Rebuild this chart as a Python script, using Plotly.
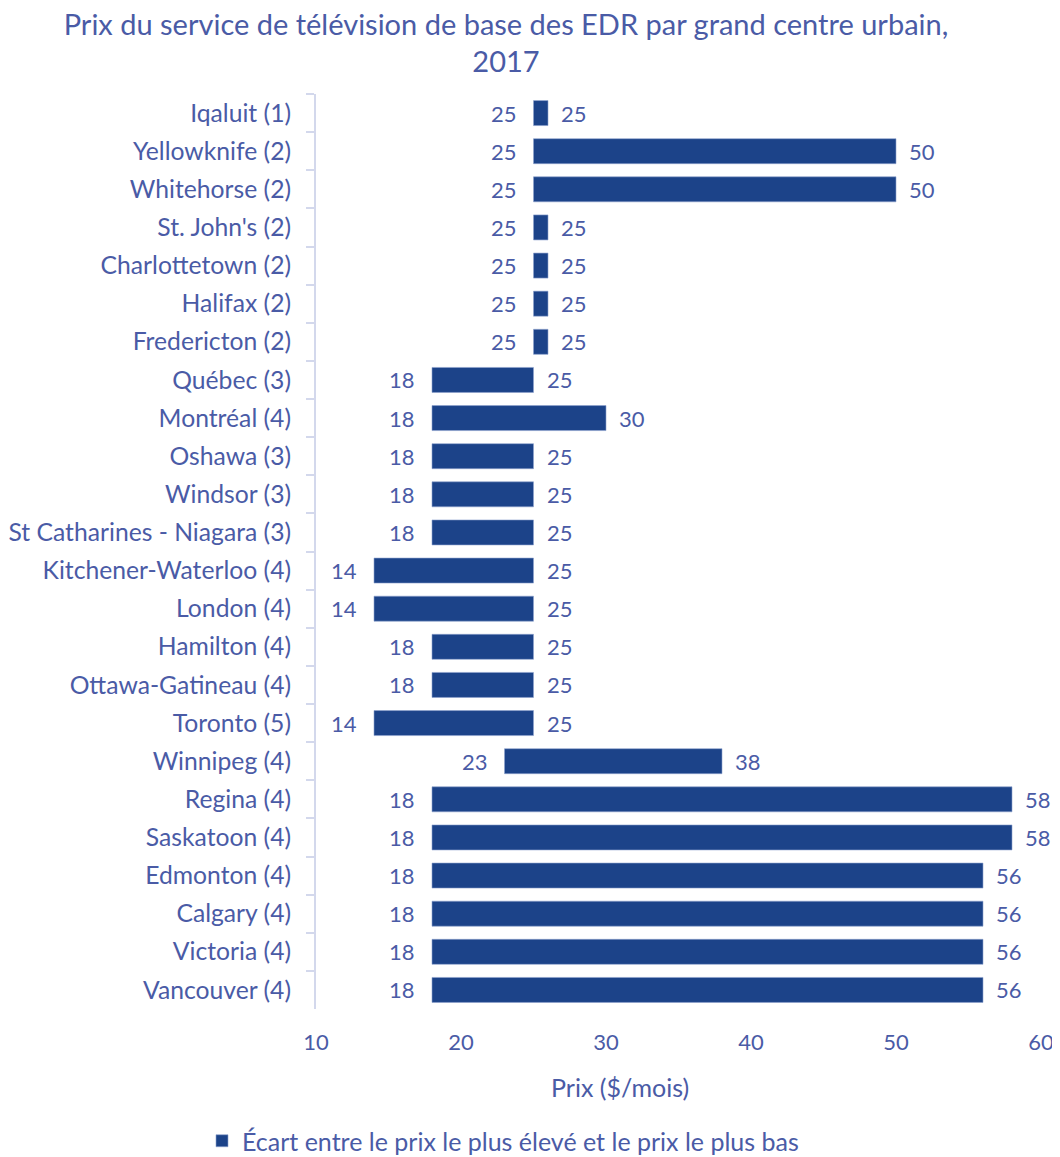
import plotly.graph_objects as go

cities = ["Iqaluit (1)", "Yellowknife (2)", "Whitehorse (2)", "St. John's (2)", "Charlottetown (2)",
          "Halifax (2)", "Fredericton (2)", "Québec (3)", "Montréal (4)", "Oshawa (3)", "Windsor (3)",
          "St Catharines - Niagara (3)", "Kitchener-Waterloo (4)", "London (4)", "Hamilton (4)",
          "Ottawa-Gatineau (4)", "Toronto (5)", "Winnipeg (4)", "Regina (4)", "Saskatoon (4)",
          "Edmonton (4)", "Calgary (4)", "Victoria (4)", "Vancouver (4)"]
low = [25, 25, 25, 25, 25, 25, 25, 18, 18, 18, 18, 18, 14, 14, 18, 18, 14, 23, 18, 18, 18, 18, 18, 18]
high = [25, 50, 50, 25, 25, 25, 25, 25, 30, 25, 25, 25, 25, 25, 25, 25, 25, 38, 58, 58, 56, 56, 56, 56]
x_ticks = [10, 20, 30, 40, 50, 60]

MIN_SPAN = 1  # equal low/high still drawn as a thin bar, as in the original
span = [max(h - l, MIN_SPAN) for l, h in zip(low, high)]

TXT = "#4A5BA6"
BAR = "#1C4389"
FONT = "Lato, 'Open Sans', sans-serif"

W, H = 1060, 1157
OFF = 8  # page body margin offsets the figure
L, R, T, B = 316 - OFF, W - 1041 + OFF, 94 - OFF, H - 1009 + OFF
PW, PH = W - L - R, H - T - B

fig = go.Figure()
fig.add_trace(go.Bar(
    y=cities, x=span, base=low, orientation="h",
    marker=dict(color=BAR, line=dict(color="#8FA3CF", width=0.6)),
    name="Écart entre le prix le plus élevé et le prix le plus bas",
    showlegend=True,
))

annotations = []
for c, l, s, h in zip(cities, low, span, high):
    annotations.append(dict(x=l, y=c, xref="x", yref="y", text=str(l), showarrow=False,
                            xanchor="right", yanchor="middle", xshift=-15,
                            font=dict(size=22, color=TXT, family=FONT)))
    annotations.append(dict(x=l + s, y=c, xref="x", yref="y", text=str(h), showarrow=False,
                            xanchor="left", yanchor="middle", xshift=11,
                            font=dict(size=22, color=TXT, family=FONT)))
annotations.append(dict(x=(620 - OFF - L) / PW, y=(H - B - (1087 - OFF)) / PH, xref="paper", yref="paper",
                        text="Prix ($/mois)", showarrow=False, yanchor="middle",
                        font=dict(size=25, color=TXT, family=FONT)))

fig.update_layout(
    width=W, height=H,
    margin=dict(l=L, r=R, t=T, b=B, autoexpand=False),
    paper_bgcolor="white", plot_bgcolor="white",
    font=dict(family=FONT, color=TXT, size=22),
    title=dict(text="Prix du service de télévision de base des EDR par grand centre urbain,<br>2017",
               x=(506 - OFF) / W, xanchor="center", y=1 - 26.5 / H, yanchor="middle",
               font=dict(size=29, color=TXT, family=FONT)),
    bargap=0.344,
    xaxis=dict(range=[10, 60], tickvals=x_ticks, showgrid=False, zeroline=False,
               showline=False, ticks="", ticklabelstandoff=18, automargin=False,
               tickfont=dict(size=22, color=TXT)),
    yaxis=dict(categoryorder="array", categoryarray=cities, autorange="reversed",
               showline=True, linecolor="#D3D8EC", linewidth=2, automargin=False,
               ticks="outside", tickson="boundaries", ticklen=8, tickcolor="#D3D8EC", tickwidth=2,
               ticklabelstandoff=18, showgrid=False,
               tickfont=dict(size=24.7, color=TXT)),
    legend=dict(orientation="h", xref="container", yref="container",
                x=(503 - OFF) / W, xanchor="center", y=1 - (1141 - OFF) / H, yanchor="middle",
                font=dict(size=25, color=TXT), itemwidth=30),
    annotations=annotations,
)

fig.write_html("out.html")
